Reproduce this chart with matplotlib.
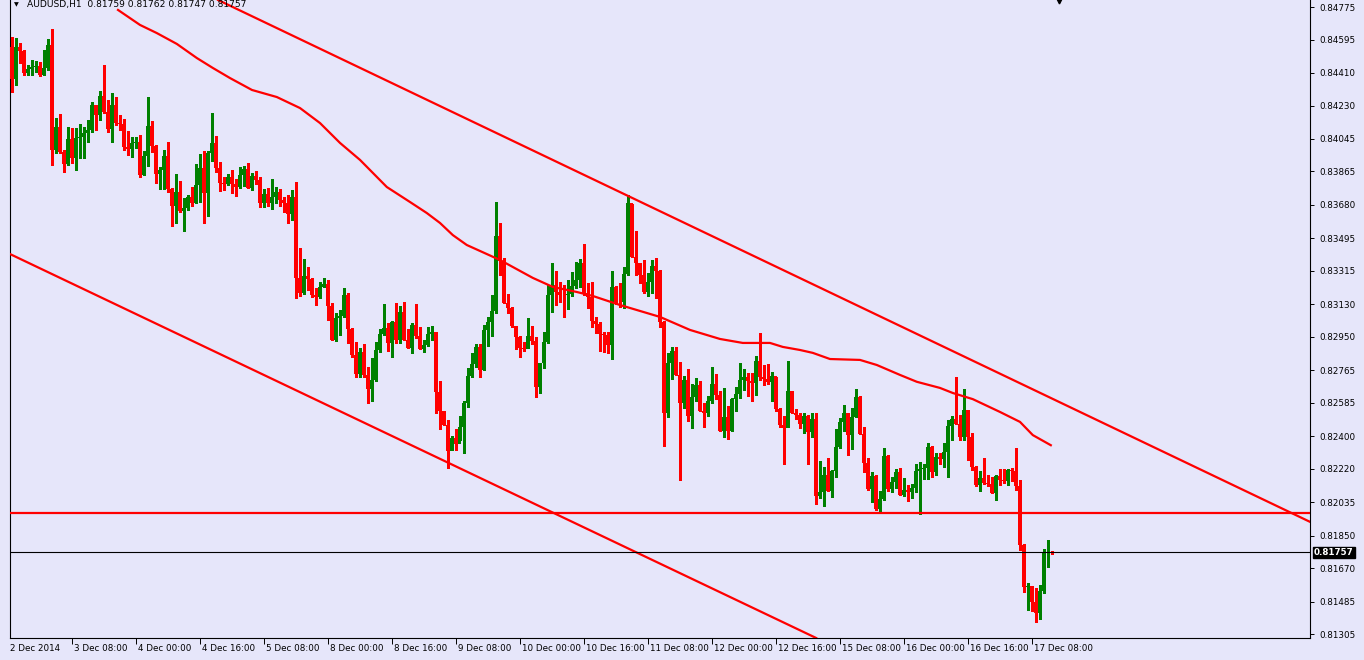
import numpy as np
import matplotlib
matplotlib.use("Agg")
import matplotlib.pyplot as plt
from matplotlib.transforms import blended_transform_factory

# AUDUSD H1, bar 0 = 2 Dec 17:00 ... bar 260 = 17 Dec 13:00, prices in points (1e-5)
first_open = 84554
closes = [
    84377, 84554, 84532, 84410, 84432, 84443, 84449, 84399, 84438, 84565,
    83984, 84111, 83973, 83906, 84045, 83940, 84050, 84056, 84078, 84095,
    84233, 84178, 84283, 84194, 84100, 84233, 84133, 84128, 84000, 83989,
    84023, 84028, 83846, 83951, 84117, 84006, 83851, 83873, 83951, 83768,
    83674, 83751, 83646, 83663, 83724, 83691, 83790, 83884, 83746, 83967,
    84023, 83884, 83801, 83796, 83834, 83796, 83779, 83846, 83879, 83774,
    83840, 83818, 83691, 83740, 83691, 83724, 83751, 83707, 83691, 83630,
    83724, 83276, 83193, 83287, 83270, 83181, 83170, 83225, 83242, 83121,
    82932, 83054, 83065, 83181, 82993, 82850, 82744, 82866, 82739, 82661,
    82711, 82877, 82966, 82999, 82916, 83032, 82932, 83087, 82932, 82888,
    83016, 82955, 82883, 82905, 82966, 82977, 82645, 82540, 82462, 82317,
    82390, 82357, 82451, 82584, 82733, 82800, 82894, 82766, 82988, 83032,
    83093, 83508, 83370, 83137, 83110, 83010, 82949, 82888, 82883, 82955,
    82927, 82672, 82805, 82921, 83181, 83237, 83198, 83181, 83179, 83187,
    83231, 83265, 83359, 83193, 83170, 83038, 83021, 82966, 82960, 82905,
    83226, 83143, 83140, 83298, 83691, 83392, 83359, 83292, 83198, 83253,
    83342, 83314, 83032, 82528, 82805, 82872, 82739, 82584, 82711, 82512,
    82617, 82683, 82540, 82528, 82595, 82689, 82628, 82429, 82506, 82429,
    82606, 82634, 82711, 82728, 82706, 82695, 82816, 82728, 82717, 82700,
    82733, 82551, 82462, 82445, 82650, 82528, 82517, 82468, 82512, 82423,
    82495, 82069, 82091, 82185, 82097, 82207, 82341, 82479, 82528, 82407,
    82506, 82617, 82412, 82252, 82108, 82180, 81997, 82053, 82291, 82108,
    82147, 82202, 82075, 82102, 82091, 82113, 82207, 82218, 82224, 82341,
    82202, 82285, 82274, 82313, 82457, 82495, 82468, 82396, 82545, 82396,
    82230, 82130, 82169, 82141, 82138, 82086, 82180, 82158, 82152, 82213,
    82207, 82124, 81798, 81566, 81571, 81483, 81422, 81544, 81754, 81759,
    81757,
]
highs = [
    84609, 84604, 84576, 84537, 84454, 84482, 84476, 84471, 84537, 84598,
    84654, 84161, 84183, 83984, 84111, 84106, 84106, 84128, 84111, 84150,
    84250, 84233, 84310, 84454, 84261, 84299, 84277, 84178, 84155, 84089,
    84056, 84056, 84067, 83978, 84277, 84144, 84012, 83890, 83984, 84028,
    83774, 83851, 83812, 83718, 83735, 83779, 83906, 83962, 83978, 83978,
    84189, 84061, 83917, 83834, 83851, 83873, 83823, 83890, 83895, 83912,
    83857, 83868, 83834, 83768, 83774, 83823, 83779, 83768, 83724, 83735,
    83763, 83807, 83442, 83381, 83336, 83276, 83220, 83253, 83276, 83265,
    83137, 83082, 83098, 83220, 83193, 82999, 82921, 82888, 82910, 82783,
    82833, 82921, 82993, 83132, 83027, 83038, 83137, 83121, 83143, 82993,
    83027, 83132, 83004, 82932, 83004, 83010, 82977, 82706, 82540, 82490,
    82401, 82440, 82512, 82595, 82778, 82861, 82910, 82910, 83015, 83060,
    83181, 83696, 83580, 83386, 83187, 83115, 83010, 82955, 82921, 83054,
    83010, 82949, 82805, 82977, 83237, 83359, 83314, 83253, 83237, 83265,
    83309, 83364, 83381, 83464, 83248, 83253, 83060, 83032, 82977, 82977,
    83314, 83231, 83248, 83336, 83735, 83685, 83536, 83359, 83375, 83303,
    83375, 83386, 83320, 83038, 82861, 82894, 82894, 82811, 82733, 82772,
    82689, 82722, 82706, 82584, 82623, 82783, 82744, 82650, 82667, 82567,
    82612, 82672, 82805, 82772, 82750, 82750, 82844, 82971, 82794, 82800,
    82755, 82728, 82556, 82512, 82816, 82650, 82551, 82528, 82528, 82517,
    82528, 82528, 82263, 82230, 82279, 82213, 82440, 82501, 82573, 82528,
    82556, 82661, 82623, 82451, 82279, 82202, 82185, 82097, 82335, 82296,
    82174, 82218, 82224, 82169, 82130, 82136, 82246, 82257, 82246, 82362,
    82346, 82307, 82307, 82362, 82490, 82512, 82728, 82517, 82661, 82545,
    82418, 82235, 82207, 82279, 82185, 82174, 82185, 82218, 82218, 82218,
    82224, 82335, 82158, 81803, 81588, 81571, 81560, 81577, 81776, 81826,
    81762,
]
lows = [
    84305, 84344, 84465, 84399, 84399, 84399, 84416, 84393, 84399, 84427,
    83901, 83967, 83967, 83862, 83901, 83912, 83873, 83940, 83940, 84028,
    84084, 84095, 84150, 84189, 84084, 84028, 84122, 84095, 83984, 83956,
    83945, 83995, 83834, 83846, 83895, 83973, 83801, 83768, 83768, 83751,
    83563, 83580, 83641, 83536, 83652, 83674, 83691, 83696, 83580, 83619,
    83923, 83862, 83757, 83763, 83790, 83746, 83729, 83774, 83785, 83774,
    83763, 83796, 83668, 83668, 83674, 83657, 83691, 83674, 83641, 83580,
    83597, 83165, 83176, 83187, 83209, 83170, 83126, 83165, 83226, 83043,
    82932, 82927, 82960, 83060, 82916, 82838, 82728, 82728, 82728, 82584,
    82595, 82706, 82866, 82960, 82872, 82838, 82916, 82916, 82932, 82888,
    82860, 82944, 82883, 82866, 82899, 82932, 82528, 82440, 82462, 82224,
    82324, 82324, 82379, 82307, 82562, 82728, 82783, 82728, 82766, 82899,
    82955, 83082, 83292, 83137, 83082, 83004, 82883, 82838, 82872, 82888,
    82910, 82617, 82639, 82778, 82916, 83087, 83126, 83143, 83060, 83104,
    83176, 83220, 83226, 83181, 83110, 83004, 82971, 82872, 82866, 82860,
    82827, 83132, 83115, 83110, 83292, 83392, 83292, 83248, 83193, 83176,
    83193, 83165, 83004, 82346, 82506, 82717, 82739, 82158, 82556, 82484,
    82445, 82595, 82540, 82451, 82512, 82584, 82606, 82429, 82396, 82385,
    82429, 82540, 82612, 82656, 82623, 82595, 82628, 82711, 82683, 82689,
    82595, 82540, 82451, 82246, 82451, 82528, 82495, 82445, 82418, 82246,
    82396, 82025, 82058, 82014, 82097, 82063, 82174, 82335, 82429, 82296,
    82329, 82506, 82412, 82202, 82102, 82036, 81992, 81986, 82047, 82097,
    82091, 82113, 82075, 82069, 82041, 82058, 82091, 81970, 82163, 82163,
    82174, 82185, 82246, 82230, 82174, 82379, 82468, 82379, 82379, 82267,
    82213, 82124, 82097, 82136, 82124, 82086, 82047, 82130, 82141, 82130,
    82152, 82102, 81770, 81538, 81439, 81433, 81372, 81389, 81532, 81676,
    81747,
]

# moving average, sampled (bar index, points)
ma_idx = [26.6, 32.1, 36.3, 41.3, 46.3, 50.3, 54.6, 60.1, 66.3, 72.1, 77.1,
          82.1, 87.1, 93.8, 99.6, 103.8, 107.1, 110.3, 113.8, 118.8, 122.1,
          130.3, 135.3, 141.3, 145.3, 152.1, 157.1, 162.1, 169.6, 173.8, 177.1,
          182.8, 189.6, 192.8, 197.1, 200.3, 204.6, 212.1, 216.3, 222.1, 226.3,
          232.1, 235.3, 240.3, 247.1, 252.1, 255.3, 259.8]
ma_pts = [84759, 84676, 84631, 84571, 84493, 84438, 84382, 84316, 84277, 84216, 84133,
          84023, 83929, 83779, 83696, 83635, 83580, 83513, 83458, 83408, 83375,
          83276, 83226, 83198, 83176, 83126, 83093, 83060, 82988, 82960, 82938,
          82916, 82916, 82894, 82877, 82861, 82827, 82822, 82794, 82739, 82701,
          82667, 82639, 82605, 82534, 82479, 82406, 82350]

upper_idx = [157.1, 327.8]
upper_pts = [83698, 81892]
lower_idx = [-0.4, 200.1]
lower_pts = [83408, 81294]
support = 0.81975
last_price = 0.81757
title = "AUDUSD,H1  0.81759 0.81762 0.81747 0.81757"

time_idx = [-1, 15, 31, 47, 63, 79, 95, 111, 127, 143, 159, 175, 191, 207, 223, 239, 255]
time_labels = ["2 Dec 2014", "3 Dec 08:00", "4 Dec 00:00", "4 Dec 16:00", "5 Dec 08:00",
               "8 Dec 00:00", "8 Dec 16:00", "9 Dec 08:00", "10 Dec 00:00", "10 Dec 16:00",
               "11 Dec 08:00", "12 Dec 00:00", "12 Dec 16:00", "15 Dec 08:00",
               "16 Dec 00:00", "16 Dec 16:00", "17 Dec 08:00"]
price_ticks = [0.84775, 0.84595, 0.84410, 0.84230, 0.84045, 0.83865, 0.83680, 0.83495,
               0.83315, 0.83130, 0.82950, 0.82765, 0.82585, 0.82400, 0.82220, 0.82035,
               0.81850, 0.81670, 0.81485, 0.81305]

bg = "#E6E6FA"
up_col = "#008000"
dn_col = "#FF0000"

c = np.array(closes) / 1e5
o = np.concatenate([[first_open / 1e5], c[:-1]])
h = np.array(highs) / 1e5
l = np.array(lows) / 1e5
x = np.arange(len(c))
cols = np.where(c >= o, up_col, dn_col)

W, H = 1364, 660
fig = plt.figure(figsize=(W / 100, H / 100), dpi=100)
fig.patch.set_facecolor(bg)
ax = fig.add_axes([10 / W, 22 / H, 1300 / W, 638 / H])
ax.set_facecolor(bg)
ax.set_xlim(-0.4, 324.6)
ax.set_ylim(0.81283, 0.84814)

# candles
ax.vlines(x, l, h, colors=cols, linewidth=0.75, antialiased=False, zorder=3)
body = np.maximum(np.abs(c - o), 0.00004)
ax.bar(x, body, bottom=np.minimum(o, c), width=0.75, color=cols,
       linewidth=0, antialiased=False, zorder=4)

# indicators / drawings
ax.plot(ma_idx, np.array(ma_pts) / 1e5, color=dn_col, lw=1.6, zorder=5)
ax.axline((upper_idx[0], upper_pts[0] / 1e5), (upper_idx[1], upper_pts[1] / 1e5),
          color=dn_col, lw=1.6, zorder=5)
ax.axline((lower_idx[0], lower_pts[0] / 1e5), (lower_idx[1], lower_pts[1] / 1e5),
          color=dn_col, lw=1.6, zorder=5)
ax.axhline(support, color=dn_col, lw=1.6, zorder=5)
ax.axhline(last_price, color="black", lw=0.8, zorder=6)

# axes look
ax.spines["top"].set_visible(False)
for s in ["left", "right", "bottom"]:
    ax.spines[s].set_color("black")
    ax.spines[s].set_linewidth(0.8)

ax.yaxis.tick_right()
ax.set_yticks(price_ticks)
ax.set_yticklabels([f"{p:.5f}" for p in price_ticks], fontsize=6.3)
ax.tick_params(axis="y", length=3, width=0.7, pad=4)
ax.set_xticks(time_idx[1:])
ax.set_xticklabels([])
ax.tick_params(axis="x", length=4, width=0.7)

tr = blended_transform_factory(ax.transData, ax.transAxes)
for ti, lab in zip(time_idx, time_labels):
    ax.text(ti + 0.7, -0.016, lab, transform=tr, fontsize=6.3, ha="left", va="center",
            clip_on=False)

# current price tag
tr2 = blended_transform_factory(ax.transAxes, ax.transData)
ax.text(1.003, last_price, f"{last_price:.5f}", transform=tr2, fontsize=6.3,
        color="white", ha="left", va="center", fontweight="bold", clip_on=False,
        bbox=dict(boxstyle="square,pad=0.15", fc="black", ec="black"))

# header
fig.text(14 / W, 1 - 5 / H, "\u25BC", fontsize=4.5, ha="left", va="center")
fig.text(27 / W, 1 - 5 / H, title, fontsize=6.6, ha="left", va="center")
ax.plot([261.8], [0.998], marker="v", color="black", markersize=3.5, clip_on=False,
        zorder=7, transform=tr)

fig.savefig("out.png", dpi=100, facecolor=bg)
